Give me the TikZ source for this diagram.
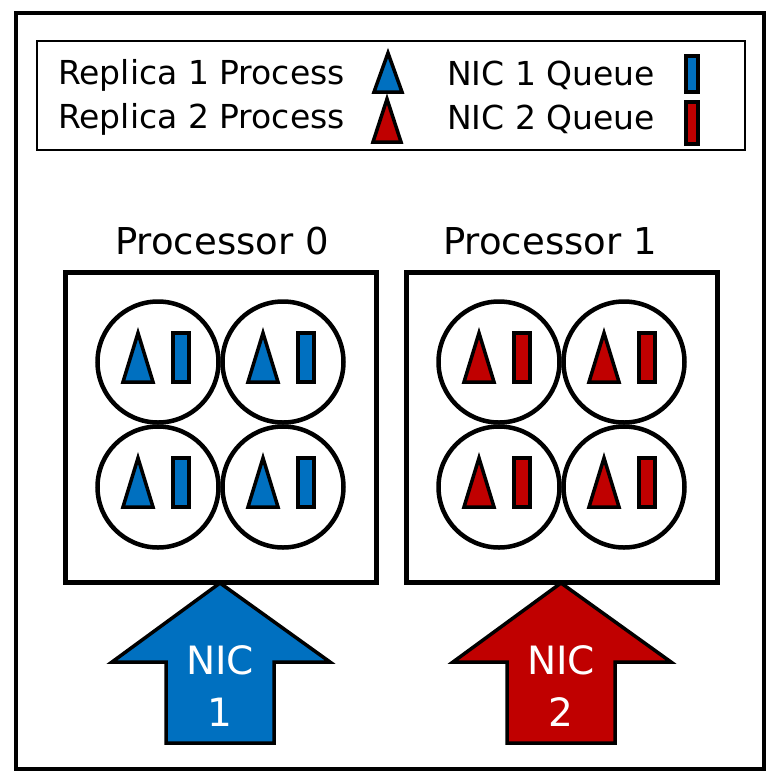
\documentclass[tikz,border=0pt]{standalone}
\usepackage{fontspec}
\setmainfont{DejaVu Sans}
\definecolor{nicblue}{HTML}{0070C0}
\definecolor{nicred}{HTML}{C00000}
\tikzset{
  procbox/.style={draw=black, line width=5pt, fill=white},
  core/.style={draw=black, line width=4.5pt, fill=white, circle, minimum size=121pt, inner sep=0pt},
  tri/.style={draw=black, line width=3.5pt, line join=miter},
  queue/.style={draw=black, line width=3.5pt},
  bigarrow/.style={draw=black, line width=3.5pt, line join=miter},
  legtext/.style={font=\fontsize{33}{36}\selectfont, anchor=west, inner sep=0pt},
  proctext/.style={font=\fontsize{37}{40}\selectfont, inner sep=0pt},
  nictext/.style={font=\fontsize{39}{52}\selectfont, text=white, align=center, inner sep=0pt},
}
\newcommand{\coreunit}[3]{% name, center, color
  \node[core] (#1) at (#2) {};
  \draw[tri, fill=#3] ($(#1)+(-35,20)$) -- ($(#1)+(-20,-29)$) -- ($(#1)+(-5,20)$) -- cycle;
  \draw[queue, fill=#3] ($(#1)+(15,-29)$) rectangle ($(#1)+(31,20)$);
}
\usetikzlibrary{calc}
\begin{document}
\begin{tikzpicture}[x=1pt, y=-1pt]
\useasboundingbox (0,0) rectangle (767,772);
\fill[white] (0,0) rectangle (767,772);
% outer frame
\draw[line width=4.5pt] (16,13) rectangle (764,769);
% legend
\node[draw=black, line width=1.5pt, minimum width=708pt, minimum height=109pt, inner sep=0pt] (legend) at (391,95.5) {};
\node[legtext] (l1) at (58,75) {Replica 1 Process};
\node[legtext] (l2) at (58,119) {Replica 2 Process};
\node[legtext] (l3) at (447,75) {NIC 1 Queue};
\node[legtext] (l4) at (447,119) {NIC 2 Queue};
\coordinate (lt1) at (388,72);
\coordinate (lt2) at (387,121);
\draw[tri, fill=nicblue] ($(lt1)+(-14,20)$) -- ($(lt1)+(0,-19)$) -- ($(lt1)+(14,20)$) -- cycle;
\draw[tri, fill=nicred] ($(lt2)+(-14,21)$) -- ($(lt2)+(0,-22)$) -- ($(lt2)+(14,21)$) -- cycle;
\coordinate (lq1) at (692,74);
\coordinate (lq2) at (692,123);
\draw[queue, fill=nicblue] ($(lq1)+(-6,-18)$) rectangle ($(lq1)+(6,18)$);
\draw[queue, fill=nicred] ($(lq2)+(-6,-21)$) rectangle ($(lq2)+(6,21)$);
% processors
\node[proctext] (p0t) at (222,241) {Processor 0};
\node[proctext] (p1t) at (550,241) {Processor 1};
\node[procbox, minimum width=311pt, minimum height=310pt, inner sep=0pt] (p0) at (220.5,427) {};
\node[procbox, minimum width=311pt, minimum height=310pt, inner sep=0pt] (p1) at (561.5,427) {};
% cores
\coreunit{c00}{158,362}{nicblue}
\coreunit{c01}{283,362}{nicblue}
\coreunit{c02}{158,487}{nicblue}
\coreunit{c03}{283,487}{nicblue}
\coreunit{c10}{499,362}{nicred}
\coreunit{c11}{624,362}{nicred}
\coreunit{c12}{499,487}{nicred}
\coreunit{c13}{624,487}{nicred}
% NIC arrows
\draw[bigarrow, fill=nicblue] (220,583) -- (330,662) -- (274,662) -- (274,743) -- (166,743) -- (166,662) -- (112,662) -- cycle;
\draw[bigarrow, fill=nicred] (561,583) -- (671,662) -- (615,662) -- (615,743) -- (507,743) -- (507,662) -- (453,662) -- cycle;
\node[nictext] (n1) at (220,686) {NIC\\1};
\node[nictext] (n2) at (561,686) {NIC\\2};
\end{tikzpicture}
\end{document}
